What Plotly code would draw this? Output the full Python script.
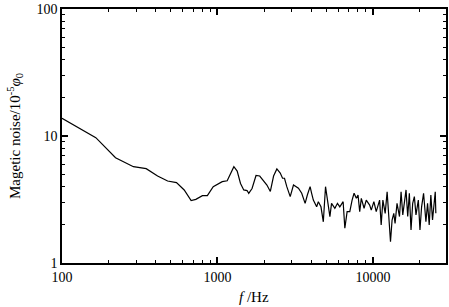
import plotly.graph_objects as go

freq_hz = [100, 165, 221, 288, 348, 412, 478, 545, 611, 677, 726, 800, 861, 939,
           1073, 1155, 1275, 1339, 1407, 1476, 1550, 1589, 1669, 1770, 1870, 2013,
           2080, 2188, 2296, 2411, 2534, 2622, 2699, 2793, 2937, 3083, 3318, 3483,
           3663, 3786, 3943, 4034, 4137, 4345, 4455, 4632, 4796, 4956, 5155, 5287,
           5418, 5690, 5913, 6124, 6431, 6596, 6823, 7098, 7345, 7564, 7821, 8020,
           8222, 8420, 8770, 9058, 9526, 9755, 10140, 10500, 11040, 11300, 11590,
           11990, 12340, 12790, 12970, 13280, 13620, 13880, 14290, 14820, 15170,
           15560, 15960, 16330, 16740, 17150, 17580, 18020, 18470, 18920, 19590,
           20070, 20560, 21170, 21920, 22460, 23010, 23580, 24170, 25170, 25390]
noise = [13.8, 9.7, 6.75, 5.73, 5.53, 4.84, 4.42, 4.29, 3.76, 3.10, 3.17, 3.39, 3.39, 3.99,
         4.37, 4.44, 5.73, 5.30, 4.23, 3.76, 3.72, 3.54, 3.86, 4.89, 4.84, 4.38,
         4.11, 3.66, 4.84, 5.50, 5.11, 4.65, 4.65, 3.99, 3.33, 4.11, 3.88, 3.54,
         2.95, 3.43, 3.99, 3.54, 3.13, 2.77, 3.04, 2.77, 2.11, 3.99, 2.95, 2.32,
         2.95, 2.70, 2.95, 2.77, 3.04, 1.88, 2.54, 2.54, 3.13, 3.54, 3.23, 3.43,
         2.54, 3.23, 2.70, 3.13, 2.86, 2.61, 3.04, 2.54, 3.13, 1.99, 3.13,
         2.46, 3.64, 1.99, 1.47, 2.18, 2.46, 2.05, 2.95, 2.32, 3.64,
         2.39, 3.13, 3.76, 2.32, 3.54, 1.82, 2.95, 3.33, 2.39, 3.13,
         1.82, 2.77, 3.54, 2.11, 2.95, 1.99, 3.43, 2.18, 3.64, 2.46]

x_tickvals = [100, 1000, 10000]
x_ticktext = ["100", "1000", "10000"]
y_tickvals = [1, 10, 100]
y_ticktext = ["1", "10", "100"]
x_title = "<i>f</i> /Hz"
y_title = "Magetic noise/10<sup>-5</sup><i>φ</i><sub>0</sub>"

FONT = "Liberation Serif, Times New Roman, serif"

fig = go.Figure(go.Scatter(x=freq_hz, y=noise, mode="lines",
                           line=dict(color="black", width=1.2)))

axis_common = dict(
    type="log", showline=True, linecolor="black", linewidth=1.5, mirror="allticks",
    ticks="inside", ticklen=6, tickwidth=1.5, tickcolor="black",
    showgrid=False, zeroline=False, automargin=False,
    minor=dict(ticks="inside", ticklen=3, tickwidth=1.2, tickcolor="black",
               dtick="D1", showgrid=False),
    tickfont=dict(family=FONT, size=14, color="black"),
)

fig.update_xaxes(range=[2, 4.47], tickvals=x_tickvals, ticktext=x_ticktext, **axis_common)
fig.update_yaxes(range=[0, 2], tickvals=y_tickvals, ticktext=y_ticktext, **axis_common)

fig.add_annotation(text=x_title, xref="paper", yref="paper", x=0.5, y=0,
                   yshift=-34, yanchor="middle", showarrow=False,
                   font=dict(family=FONT, size=15, color="black"))
fig.add_annotation(text=y_title, xref="paper", yref="paper", x=0, y=0.5,
                   xshift=-47, xanchor="center", yanchor="middle", textangle=-90,
                   showarrow=False, font=dict(family=FONT, size=15, color="black"))

fig.update_layout(width=449, height=307, margin=dict(l=62, r=3, t=9, b=44),
                  plot_bgcolor="white", paper_bgcolor="white", showlegend=False,
                  font=dict(family=FONT, color="black"))

fig.write_html("out.html", config={"displayModeBar": False},
               post_script="document.body.style.margin='0';document.body.style.overflow='hidden';")
